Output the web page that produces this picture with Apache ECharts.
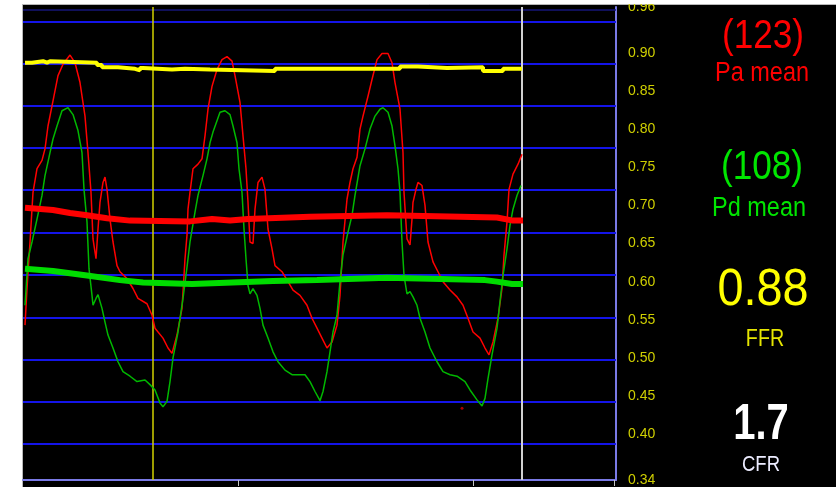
<!DOCTYPE html>
<html>
<head>
<meta charset="utf-8">
<script src="https://cdn.jsdelivr.net/npm/echarts@6/dist/echarts.min.js"></script>
<style>
  html, body { margin: 0; padding: 0; background: #ffffff; }
  #chart { width: 836px; height: 487px; }
</style>
</head>
<body>
<div id="chart"></div>
<script>
// Time in seconds, values on the ratio scale shown on the right axis.
const paTrace = [[0.02,0.543],[0.04,0.591],[0.07,0.652],[0.10,0.717],[0.14,0.748],[0.19,0.759],[0.22,0.774],[0.25,0.804],[0.30,0.837],[0.35,0.870],[0.40,0.885],[0.47,0.897],[0.52,0.887],[0.57,0.861],[0.62,0.817],[0.65,0.769],[0.68,0.717],[0.70,0.656],[0.73,0.630],[0.75,0.669],[0.77,0.704],[0.80,0.730],[0.82,0.737],[0.84,0.721],[0.87,0.682],[0.90,0.652],[0.94,0.621],[0.97,0.613],[1.04,0.604],[1.10,0.591],[1.15,0.578],[1.24,0.571],[1.29,0.556],[1.32,0.539],[1.40,0.526],[1.45,0.513],[1.49,0.506],[1.54,0.530],[1.59,0.565],[1.62,0.630],[1.64,0.661],[1.65,0.695],[1.67,0.717],[1.70,0.748],[1.75,0.754],[1.79,0.761],[1.82,0.791],[1.85,0.826],[1.89,0.856],[1.94,0.878],[1.99,0.891],[2.04,0.895],[2.09,0.889],[2.12,0.870],[2.17,0.835],[2.20,0.791],[2.23,0.748],[2.25,0.704],[2.27,0.652],[2.30,0.650],[2.32,0.695],[2.35,0.730],[2.39,0.737],[2.42,0.721],[2.45,0.669],[2.49,0.643],[2.52,0.621],[2.59,0.613],[2.65,0.600],[2.70,0.589],[2.77,0.582],[2.84,0.569],[2.89,0.552],[2.94,0.539],[2.99,0.526],[3.04,0.513],[3.06,0.511],[3.09,0.521],[3.14,0.543],[3.17,0.582],[3.20,0.652],[3.24,0.708],[3.27,0.730],[3.30,0.748],[3.34,0.763],[3.37,0.800],[3.40,0.817],[3.45,0.843],[3.49,0.865],[3.54,0.891],[3.59,0.899],[3.65,0.899],[3.69,0.887],[3.72,0.861],[3.77,0.826],[3.80,0.769],[3.81,0.717],[3.84,0.656],[3.87,0.648],[3.89,0.682],[3.90,0.704],[3.93,0.721],[3.95,0.730],[3.99,0.726],[4.02,0.700],[4.05,0.652],[4.10,0.626],[4.15,0.613],[4.20,0.600],[4.27,0.589],[4.34,0.580],[4.40,0.569],[4.45,0.552],[4.50,0.534],[4.57,0.526],[4.62,0.513],[4.66,0.504],[4.70,0.521],[4.75,0.552],[4.79,0.591],[4.81,0.635],[4.84,0.678],[4.86,0.721],[4.90,0.741],[4.95,0.754],[4.99,0.767]];

const pdTrace = [[0.02,0.569],[0.05,0.630],[0.09,0.652],[0.14,0.682],[0.19,0.713],[0.22,0.739],[0.27,0.769],[0.30,0.787],[0.34,0.804],[0.39,0.824],[0.45,0.828],[0.50,0.819],[0.55,0.798],[0.59,0.769],[0.61,0.721],[0.64,0.678],[0.66,0.617],[0.69,0.582],[0.70,0.569],[0.73,0.578],[0.75,0.583],[0.79,0.565],[0.82,0.547],[0.85,0.530],[0.90,0.513],[0.95,0.495],[1.00,0.482],[1.07,0.476],[1.14,0.469],[1.22,0.471],[1.27,0.465],[1.32,0.458],[1.37,0.441],[1.40,0.436],[1.44,0.443],[1.47,0.469],[1.50,0.500],[1.55,0.534],[1.60,0.578],[1.64,0.619],[1.67,0.652],[1.72,0.691],[1.75,0.713],[1.80,0.739],[1.84,0.761],[1.87,0.782],[1.90,0.796],[1.94,0.811],[1.97,0.822],[2.02,0.824],[2.07,0.819],[2.10,0.804],[2.14,0.782],[2.16,0.748],[2.19,0.717],[2.21,0.669],[2.23,0.630],[2.25,0.595],[2.27,0.584],[2.30,0.591],[2.34,0.582],[2.37,0.565],[2.40,0.543],[2.45,0.526],[2.50,0.508],[2.55,0.495],[2.62,0.484],[2.69,0.478],[2.75,0.478],[2.82,0.478],[2.87,0.469],[2.92,0.456],[2.97,0.444],[3.00,0.456],[3.04,0.482],[3.07,0.508],[3.10,0.534],[3.14,0.556],[3.17,0.600],[3.20,0.635],[3.25,0.665],[3.29,0.687],[3.32,0.713],[3.37,0.752],[3.42,0.774],[3.47,0.800],[3.52,0.817],[3.57,0.826],[3.60,0.828],[3.65,0.822],[3.69,0.804],[3.72,0.778],[3.75,0.748],[3.77,0.717],[3.79,0.652],[3.81,0.608],[3.84,0.584],[3.87,0.587],[3.90,0.580],[3.94,0.569],[3.97,0.552],[4.02,0.534],[4.07,0.513],[4.14,0.495],[4.20,0.482],[4.27,0.478],[4.34,0.476],[4.42,0.469],[4.47,0.458],[4.54,0.445],[4.59,0.437],[4.62,0.447],[4.65,0.473],[4.69,0.504],[4.74,0.539],[4.77,0.574],[4.80,0.608],[4.84,0.643],[4.87,0.674],[4.90,0.695],[4.94,0.713],[4.98,0.726]];

const paMean = [[0.02,0.697],[0.30,0.694],[0.47,0.690],[0.64,0.687],[0.84,0.683],[1.07,0.680],[1.67,0.679],[1.89,0.682],[2.07,0.680],[2.25,0.682],[2.87,0.685],[3.64,0.687],[4.74,0.684],[4.90,0.680],[5.00,0.680]];

const pdMean = [[0.02,0.617],[0.30,0.614],[0.64,0.608],[0.97,0.602],[1.20,0.599],[1.69,0.597],[2.50,0.601],[2.94,0.602],[3.64,0.605],[4.62,0.602],[4.74,0.600],[4.89,0.597],[5.00,0.597]];

const ffrTrace = [[0.02,0.887],[0.09,0.889],[0.20,0.887],[0.24,0.889],[0.27,0.887],[0.74,0.884],[0.79,0.881],[0.95,0.879],[1.12,0.877],[1.17,0.880],[1.20,0.878],[1.49,0.879],[1.62,0.878],[1.87,0.876],[2.52,0.879],[3.77,0.882],[3.95,0.880],[4.24,0.881],[4.60,0.876],[4.80,0.879],[4.99,0.879]];

const strayPoints = [[4.39,0.434]];

const yLabelValues = [0.34,0.40,0.45,0.50,0.55,0.60,0.65,0.70,0.75,0.80,0.85,0.90,0.96];
const gridLevels = [0.941,0.886,0.830,0.775,0.720,0.664,0.609,0.553,0.498,0.442,0.387];
const frameTopLevel = 0.956;
const xTickTimes = [2.15, 4.50, 5.91];
const cursorStart = 1.30;
const cursorEnd = 4.99;

const paMeanText = '(123)';
const pdMeanText = '(108)';
const ffrText = '0.88';
const cfrText = '1.7';

const FONT = '"Liberation Sans", Arial, sans-serif';

const chart = echarts.init(document.getElementById('chart'), null, { renderer: 'canvas' });

const guideLines = gridLevels.map(v => ({ yAxis: v }))
  .concat([
    { yAxis: frameTopLevel, lineStyle: { color: '#16167a', width: 1.5 } },
    { xAxis: cursorStart, lineStyle: { color: '#d2d200', width: 1.5 } },
    { xAxis: cursorEnd, lineStyle: { color: '#d0d0d0', width: 2 } }
  ]);

function panelText(text, x, y, size, color, scaleX, weight) {
  return {
    type: 'text', x: x, y: y, z: 10, scaleX: scaleX,
    style: {
      text: text, fill: color,
      font: (weight || 'normal') + ' ' + size + 'px ' + FONT,
      align: 'center', verticalAlign: 'middle'
    }
  };
}

chart.setOption({
  animation: false,
  backgroundColor: '#ffffff',
  grid: { left: 23, right: 220, top: 4, bottom: 7, containLabel: false },
  xAxis: {
    type: 'value', min: 0, max: 5.93,
    axisLine: { show: true, onZero: false, lineStyle: { color: '#7a7ae6', width: 2 } },
    axisTick: { show: true, customValues: xTickTimes, length: 6, lineStyle: { color: '#c8c8c8', width: 1 } },
    axisLabel: { show: false },
    splitLine: { show: false }
  },
  yAxis: {
    type: 'value', position: 'right', min: 0.34, max: 0.96,
    axisLine: { show: true, onZero: false, lineStyle: { color: '#7a7ae6', width: 2 } },
    axisTick: { show: false },
    axisLabel: {
      show: true, customValues: yLabelValues, margin: 12,
      color: '#cfcf00', fontSize: 14, fontFamily: FONT,
      formatter: v => v.toFixed(2)
    },
    splitLine: { show: false }
  },
  graphic: [
    { type: 'rect', z: -10, shape: { x: 22.5, y: 4.5, width: 820, height: 490 },
      style: { fill: '#000000', stroke: '#b8b8b8', lineWidth: 1 } },
    { type: 'rect', z: 50, shape: { x: 0, y: 0, width: 836, height: 4 }, style: { fill: '#ffffff' } },
    panelText(paMeanText, 763, 37, 40, '#ff0000', 0.88),
    panelText('Pa mean', 762, 74, 27, '#ff0000', 0.87),
    panelText(pdMeanText, 762, 168, 40, '#00e600', 0.88),
    panelText('Pd mean', 759, 209, 27, '#00e600', 0.87),
    panelText(ffrText, 763, 291, 52, '#ffff00', 0.9),
    panelText('FFR', 765, 339, 24, '#e6e600', 0.82),
    panelText(cfrText, 761, 425, 50, '#ffffff', 0.8, 'bold'),
    panelText('CFR', 761, 465, 22, '#ececff', 0.84)
  ],
  series: [
    {
      name: 'Pa', type: 'line', data: paTrace, symbol: 'none', z: 2,
      lineStyle: { color: '#ff0000', width: 1.5 },
      markLine: {
        z: 1, silent: true, symbol: 'none', animation: false, precision: 4,
        label: { show: false },
        lineStyle: { type: 'solid', color: '#1414e8', width: 2 },
        emphasis: { disabled: true },
        data: guideLines
      }
    },
    { name: 'Pd', type: 'line', data: pdTrace, symbol: 'none', z: 2,
      lineStyle: { color: '#00b800', width: 1.5 } },
    { name: 'Pa mean', type: 'line', data: paMean, symbol: 'none', z: 3,
      lineStyle: { color: '#ff0000', width: 6 } },
    { name: 'Pd mean', type: 'line', data: pdMean, symbol: 'none', z: 3,
      lineStyle: { color: '#00dc00', width: 6 } },
    { name: 'Pd/Pa', type: 'line', data: ffrTrace, step: 'end', symbol: 'none', z: 3,
      lineStyle: { color: '#ffff00', width: 4 } },
    { name: 'artifact', type: 'scatter', data: strayPoints, symbolSize: 3, z: 3,
      itemStyle: { color: '#d00000' } }
  ]
});
</script>
</body>
</html>
